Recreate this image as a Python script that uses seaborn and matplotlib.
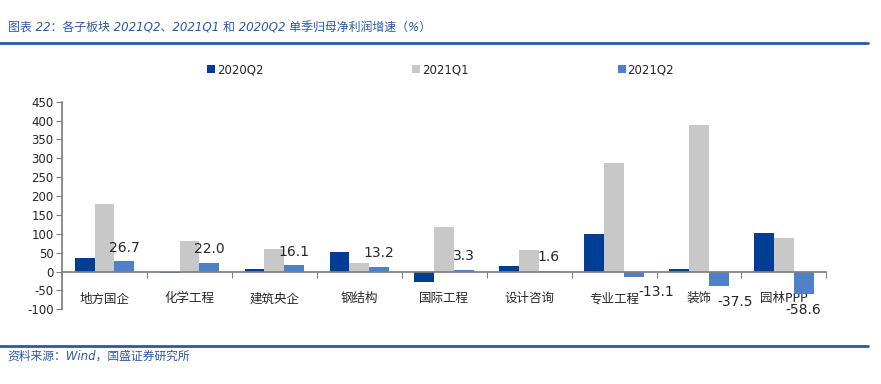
import numpy as np
import pandas as pd
import matplotlib
matplotlib.use("Agg")
import matplotlib.pyplot as plt
import seaborn as sns
from matplotlib.lines import Line2D
from matplotlib.patches import Patch

sns.set_theme(style="white")
plt.rcParams["font.family"] = ["DejaVu Sans", "Noto Sans CJK SC"]
plt.rcParams["axes.unicode_minus"] = False

# ── 数据 ──────────────────────────────────────────────
sectors = ["地方国企", "化学工程", "建筑央企", "钢结构", "国际工程",
           "设计咨询", "专业工程", "装饰", "园林PPP"]
periods = ["2020Q2", "2021Q1", "2021Q2"]
v_2020q2 = [36, -4, 8, 51, -28, 14, 100, 7, 102]
v_2021q1 = [180, 80, 59, 24, 117, 56, 287, 389, 88]
v_2021q2 = [26.7, 22.0, 16.1, 13.2, 3.3, 1.6, -13.1, -37.5, -58.6]

COLORS = ["#003E95", "#C8C8C8", "#4F81C6"]
BLUE = "#2A5AA6"

df = pd.DataFrame({
    "板块": sectors * 3,
    "期间": np.repeat(periods, len(sectors)),
    "增速": v_2020q2 + v_2021q1 + v_2021q2,
})

fig = plt.figure(figsize=(8.81, 3.84), dpi=100)
ax = fig.add_axes([0.0704, 0.1945, 0.8676, 0.5405])

sns.barplot(data=df, x="板块", y="增速", hue="期间", palette=COLORS,
            width=0.7, saturation=1, errorbar=None, ax=ax, legend=False,
            linewidth=0)

ax.set_ylim(-100, 450)
ax.set_xlim(-0.5, len(sectors) - 0.5)
ax.set_yticks(np.arange(-100, 451, 50))
ax.set_xlabel("")
ax.set_ylabel("")
ax.tick_params(axis="y", left=True, length=4, width=0.8, color="#808080",
               labelsize=8.5, pad=2)
ax.set_xticks(range(len(sectors)), sectors)
ax.tick_params(axis="x", bottom=False, labelsize=9, pad=9)
ax.set_xticks(np.arange(-0.5, len(sectors), 1), minor=True)
ax.tick_params(axis="x", which="minor", bottom=True, length=4, width=0.8,
               color="#808080", direction="out")

for s in ["top", "right"]:
    ax.spines[s].set_visible(False)
ax.spines["left"].set_color("#808080")
ax.spines["bottom"].set_color("#808080")
ax.spines["bottom"].set_position(("data", 0))

# 数据标签（仅 2021Q2）；负值标签向右下错开，避开类目名
neg_shift = [(16, -15), (12, -16), (0, -16)]
k = 0
for bar, val in zip(ax.containers[2], v_2021q2):
    cx = bar.get_x() + bar.get_width() / 2
    if val >= 0:
        ax.annotate(f"{val:.1f}", (cx, val), xytext=(0, 10),
                    textcoords="offset points", ha="center", va="center",
                    fontsize=10)
    else:
        dx, dy = neg_shift[k]
        k += 1
        ax.annotate(f"{val:.1f}", (cx, val), xytext=(dx, dy + 4),
                    textcoords="offset points", ha="center", va="center",
                    fontsize=10)

handles = [Patch(facecolor=c, edgecolor="none") for c in COLORS]
fig.legend(handles, periods, loc="center", bbox_to_anchor=(0.5, 0.818),
           ncol=3, frameon=False, fontsize=8.5, handlelength=0.7,
           handleheight=0.7, handletextpad=0.15, columnspacing=12.6)

# 标题与页脚
fig.text(0.009, 0.927, "图表 22：各子板块 2021Q2、2021Q1 和 2020Q2 单季归母净利润增速（%）",
         fontsize=8.6, color=BLUE, style="italic", va="center", ha="left")
fig.add_artist(Line2D([0, 0.985], [0.887, 0.887], color=BLUE, linewidth=2))
fig.add_artist(Line2D([0, 0.985], [0.099, 0.099], color=BLUE, linewidth=2))
fig.text(0.009, 0.073, "资料来源：Wind，国盛证券研究所",
         fontsize=8.5, color=BLUE, style="italic", va="center", ha="left")

fig.savefig("out.png", dpi=100)
plt.close(fig)
